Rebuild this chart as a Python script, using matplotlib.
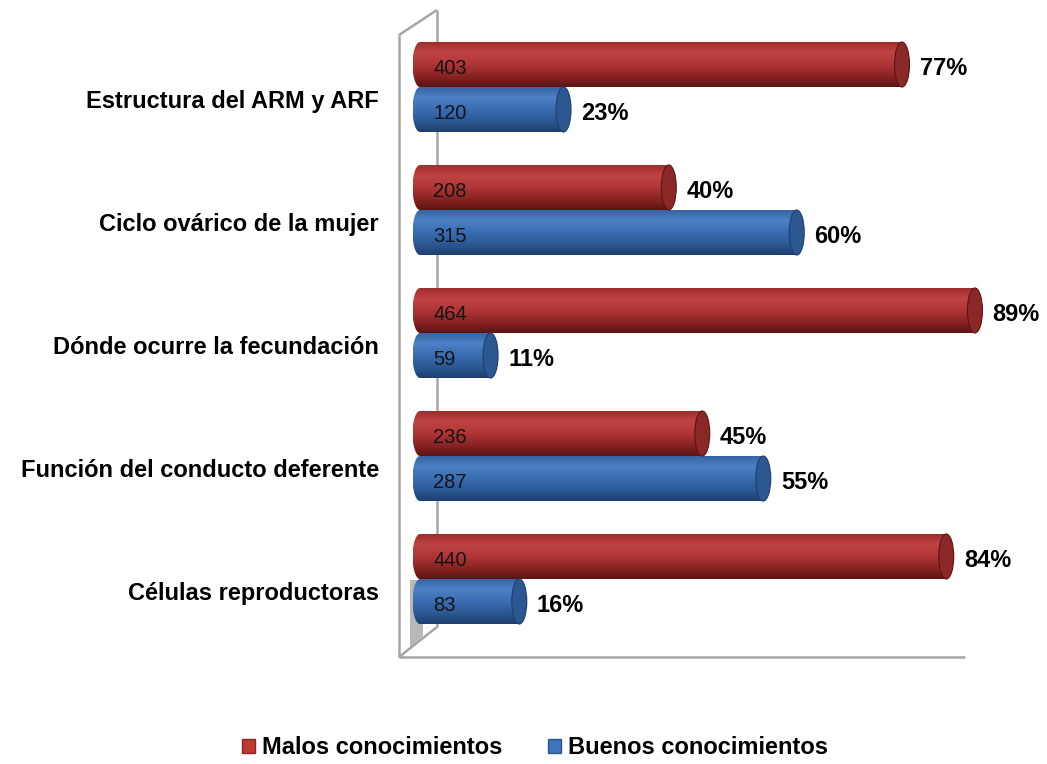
import numpy as np
import matplotlib.pyplot as plt
from matplotlib.colors import LinearSegmentedColormap
from matplotlib.patches import Ellipse, Patch, Polygon
from matplotlib.path import Path
from matplotlib.lines import Line2D

plt.rcParams['font.family'] = ['Liberation Sans', 'DejaVu Sans']

# survey topics, top to bottom
categories = [
    "Estructura del ARM y ARF",
    "Ciclo ovárico de la mujer",
    "Dónde ocurre la fecundación",
    "Función del conducto deferente",
    "Células reproductoras",
]
malos = [403, 208, 464, 236, 440]
buenos = [120, 315, 59, 287, 83]
series_names = ["Malos conocimientos", "Buenos conocimientos"]

RED = ["#9c2b2b", "#c04343", "#b03636", "#8c2424", "#5e1414"]
BLUE = ["#33629f", "#4b81c6", "#3a6db2", "#2d5a96", "#1e3f6e"]
RED_CAP = "#8a2727"
BLUE_CAP = "#2c5791"

W, H = 1047, 764
fig = plt.figure(figsize=(W / 100, H / 100), dpi=100)
ax = fig.add_axes([399 / W, 1 - 657 / H, 641 / W, 647 / H])

PX = 1.196          # pixels per unit along x
XMIN = (399 - 420) / PX
XMAX = (1040 - 420) / PX
YMIN, YMAX = -0.626, 4.634
BAR_H = 0.366
CAP_W = 15 / PX


def cylinder(ax, yc, val, colors, cap_color):
    y0, y1 = yc - BAR_H / 2, yc + BAR_H / 2
    cmap = LinearSegmentedColormap.from_list("c", colors)
    grad = np.linspace(0, 1, 100).reshape(-1, 1)
    im = ax.imshow(grad, cmap=cmap, aspect="auto", origin="upper",
                   extent=(-CAP_W / 2, val, y1, y0), zorder=3,
                   interpolation="bilinear")
    # body outline: rounded left end + straight body up to the cap centre
    t = np.linspace(np.pi / 2, 3 * np.pi / 2, 30)
    xs = list(CAP_W / 2 * np.cos(t)) + [val, val]
    ys = list(yc - BAR_H / 2 * np.sin(t)) + [y1, y0]
    verts = list(zip(xs, ys)) + [(xs[0], ys[0])]
    codes = [Path.MOVETO] + [Path.LINETO] * (len(verts) - 2) + [Path.CLOSEPOLY]
    im.set_clip_path(Path(verts, codes), ax.transData)
    cap = Ellipse((val, yc), CAP_W, BAR_H, facecolor=cap_color,
                  edgecolor=colors[-1], lw=0.8, zorder=4)
    ax.add_patch(cap)


total = [m + b for m, b in zip(malos, buenos)]
for i, cat in enumerate(categories):
    c = 0.0 + i
    for val, off, cols, capc in [(malos[i], -BAR_H / 2, RED, RED_CAP),
                                 (buenos[i], BAR_H / 2, BLUE, BLUE_CAP)]:
        yc = c + off
        cylinder(ax, yc, val, cols, capc)
        ax.text(11, yc + 0.035, str(val), ha="left", va="center",
                fontsize=14.5, color="#141414", zorder=5)
        pct = round(100 * val / total[i])
        ax.text(val + CAP_W / 2 + 8.5, yc + 0.03, f"{pct}%", ha="left",
                va="center", fontsize=17, fontweight="bold", zorder=5)
    ax.text((379 - 420) / PX, c + 0.114, cat, ha="right", va="center",
            fontsize=17, fontweight="bold", clip_on=False)

# 3-D wall and floor edges
gray = "#a6a6a6"
bx = (437 - 399) / 641
by = (657 - 627) / 647
tr = ax.transAxes
ax.add_patch(Polygon([(0.0172, 0.119), (0.0374, 0.119), (0.0374, 0.0325),
                      (0.0172, 0.0139)], closed=True, transform=tr,
                     facecolor="#b8b8b8", edgecolor="none", zorder=1))
for xs, ys, z in [([0, 0], [0, (657 - 35) / 647], 2),
                  ([0, bx], [(657 - 35) / 647, 1.0], 2),
                  ([bx, bx], [1.0, by], 1),
                  ([0, bx], [0, by], 2),
                  ([0, (965 - 399) / 641], [0, 0], 2)]:
    ax.add_line(Line2D(xs, ys, transform=tr, color=gray, lw=1.8, zorder=z,
                       clip_on=False, solid_capstyle="butt"))

ax.set_xlim(XMIN, XMAX)
ax.set_ylim(YMAX, YMIN)
ax.axis("off")

handles = [Patch(facecolor="#c0392f", edgecolor="#8a2727"),
           Patch(facecolor="#3f74ba", edgecolor="#2c5791")]
fig.legend(handles, series_names, loc="center", bbox_to_anchor=(0.511, 0.021),
           ncol=2, frameon=False, handlelength=0.55, handleheight=0.55,
           handletextpad=0.3, columnspacing=1.9,
           prop={"size": 17, "weight": "bold"})

fig.savefig("out.png", dpi=100)
